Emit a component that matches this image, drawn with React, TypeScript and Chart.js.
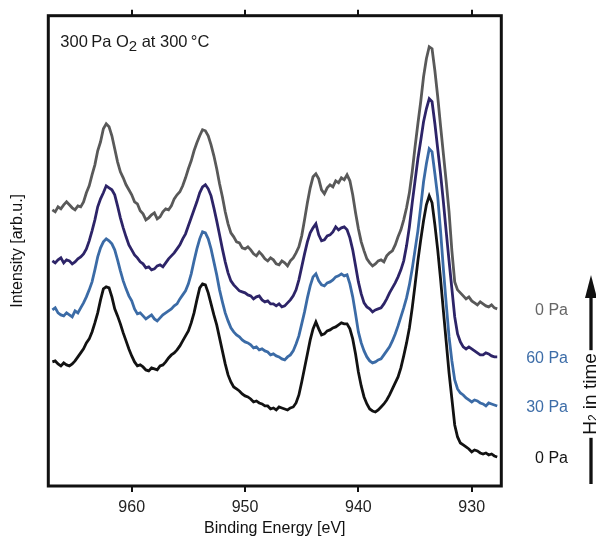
import React, { useEffect, useRef } from 'react';
import { Chart, registerables } from 'chart.js';

Chart.register(...registerables);

const FONT = '"Liberation Sans", Arial, Helvetica, sans-serif';

// Binding energy grid [eV] (one row per eV)
const energies = [
  967, 966.75, 966.5, 966.25,
  966, 965.75, 965.5, 965.25,
  965, 964.75, 964.5, 964.25,
  964, 963.75, 963.5, 963.25,
  963, 962.75, 962.5, 962.25,
  962, 961.75, 961.5, 961.25,
  961, 960.75, 960.5, 960.25,
  960, 959.75, 959.5, 959.25,
  959, 958.75, 958.5, 958.25,
  958, 957.75, 957.5, 957.25,
  957, 956.75, 956.5, 956.25,
  956, 955.75, 955.5, 955.25,
  955, 954.75, 954.5, 954.25,
  954, 953.75, 953.5, 953.25,
  953, 952.75, 952.5, 952.25,
  952, 951.75, 951.5, 951.25,
  951, 950.75, 950.5, 950.25,
  950, 949.75, 949.5, 949.25,
  949, 948.75, 948.5, 948.25,
  948, 947.75, 947.5, 947.25,
  947, 946.75, 946.5, 946.25,
  946, 945.75, 945.5, 945.25,
  945, 944.75, 944.5, 944.25,
  944, 943.75, 943.5, 943.25,
  943, 942.75, 942.5, 942.25,
  942, 941.75, 941.5, 941.25,
  941, 940.75, 940.5, 940.25,
  940, 939.75, 939.5, 939.25,
  939, 938.75, 938.5, 938.25,
  938, 937.75, 937.5, 937.25,
  937, 936.75, 936.5, 936.25,
  936, 935.75, 935.5, 935.25,
  935, 934.75, 934.5, 934.25,
  934, 933.75, 933.5, 933.25,
  933, 932.75, 932.5, 932.25,
  932, 931.75, 931.5, 931.25,
  931, 930.75, 930.5, 930.25,
  930, 929.75, 929.5, 929.25,
  929, 928.75, 928.5, 928.25,
  928, 927.75,
];

// Offset spectra (arb. u.), same row layout as energies
const gray0PaAfter = [
  276, 274, 279, 277,
  281, 284, 281, 278,
  276, 280, 279, 284,
  293, 300, 311, 321,
  335, 344, 357, 362,
  359, 350, 337, 324,
  314, 308, 301, 296,
  291, 284, 282, 275,
  272, 266, 268, 271,
  273, 267, 269, 274,
  277, 276, 280, 287,
  291, 294, 300, 308,
  317, 325, 335, 343,
  350, 356, 355, 350,
  341, 330, 317, 302,
  289, 274, 262, 253,
  249, 244, 243, 238,
  237, 239, 236, 232,
  230, 234, 231, 227,
  225, 228, 226, 222,
  221, 225, 223, 220,
  225, 228, 233, 239,
  250, 266, 283, 298,
  309, 312, 307, 296,
  292, 298, 301, 299,
  305, 303, 308, 306,
  311, 305, 291, 273,
  257, 244, 235, 227,
  223, 220, 222, 225,
  226, 224, 230, 233,
  235, 241, 249, 256,
  266, 278, 293, 314,
  339, 362, 384, 409,
  427, 439, 437, 415,
  389, 360, 332, 304,
  274, 235, 204, 196,
  193, 190, 187, 189,
  185, 183, 181, 184,
  182, 180, 179, 181,
  178, 177,
];

const purple60Pa = [
  225, 223, 226, 228,
  223, 226, 225, 222,
  224, 227, 229, 232,
  237, 245, 255, 266,
  279, 287, 293, 300,
  298, 296, 291, 280,
  268, 258, 249, 241,
  236, 231, 228, 224,
  222, 218, 219, 216,
  217, 220, 221, 219,
  223, 227, 230, 233,
  237, 241, 247, 252,
  260, 268, 276, 284,
  293, 299, 301, 297,
  290, 278, 265, 251,
  237, 224, 213, 205,
  201, 198, 195, 194,
  193, 191, 190, 187,
  189, 190, 186, 184,
  185, 182, 182, 180,
  182, 179, 180, 183,
  186, 190, 196, 206,
  219, 232, 244, 253,
  258, 262, 251, 245,
  246, 250, 251, 254,
  259, 256, 258, 259,
  256, 248, 236, 220,
  204, 192, 183, 179,
  177, 174, 176, 177,
  178, 182, 187, 193,
  198, 203, 209, 216,
  225, 240, 259, 283,
  305, 327, 345, 364,
  377, 387, 384, 362,
  337, 312, 284, 254,
  225, 197, 169, 152,
  144, 139, 137, 139,
  137, 135, 133, 131,
  131, 133, 132, 130,
  129, 129,
];

const blue30Pa = [
  176, 178, 173, 171,
  170, 173, 171, 169,
  175, 173, 178, 183,
  189, 196, 204, 216,
  229, 238, 244, 247,
  245, 242, 236, 226,
  215, 205, 197, 190,
  185, 177, 172, 173,
  170, 167, 169, 171,
  167, 165, 168, 171,
  173, 175, 177, 180,
  182, 187, 191, 195,
  202, 212, 225, 237,
  247, 254, 253, 247,
  237, 224, 211, 196,
  184, 173, 165, 158,
  154, 151, 149, 146,
  144, 143, 141, 138,
  139, 136, 137, 135,
  134, 131, 132, 130,
  129, 127, 126, 129,
  131, 135, 142, 150,
  162, 174, 188, 200,
  209, 212, 205, 201,
  200, 203, 204, 206,
  209, 210, 212, 210,
  211, 202, 189, 172,
  154, 143, 135, 129,
  125, 123, 124, 126,
  127, 131, 135, 139,
  145, 152, 160, 169,
  178, 188, 201, 217,
  236, 255, 279, 304,
  322, 337, 334, 312,
  289, 255, 217, 182,
  149, 125, 106, 97,
  93, 91, 88, 86,
  84, 86, 85, 83,
  82, 80, 83, 82,
  81, 80,
];

const black0PaStart = [
  124, 125, 122, 120,
  123, 121, 120, 122,
  125, 129, 133, 137,
  143, 147, 154, 163,
  173, 186, 197, 199,
  198, 189, 177, 170,
  162, 153, 145, 137,
  130, 124, 120, 121,
  119, 116, 115, 118,
  117, 116, 120, 121,
  124, 128, 131, 133,
  136, 140, 145, 150,
  155, 163, 173, 186,
  198, 202, 201, 193,
  182, 171, 161, 148,
  135, 122, 111, 104,
  99, 97, 95, 92,
  90, 89, 87, 84,
  85, 83, 82, 80,
  80, 77, 78, 76,
  79, 78, 77, 76,
  78, 79, 83, 91,
  104, 118, 132, 146,
  157, 164, 157, 151,
  152, 155, 156, 158,
  159, 161, 163, 162,
  162, 157, 147, 132,
  114, 100, 89, 82,
  77, 75, 74, 76,
  79, 82, 86, 91,
  97, 103, 109, 118,
  130, 143, 158, 178,
  201, 225, 246, 265,
  281, 290, 283, 261,
  236, 207, 175, 144,
  113, 87, 61, 49,
  43, 41, 39, 37,
  34, 36, 35, 33,
  32, 33, 31, 32,
  30, 29,
];

const tickValues = [930, 940, 950, 960];
const seriesValues = [gray0PaAfter, purple60Pa, blue30Pa, black0PaStart];
const seriesLabels = ['0 Pa', '60 Pa', '30 Pa', '0 Pa'];
const seriesColors = ['#595959', '#2d2468', '#3b6ba6', '#121212'];
const labelColors = ['#666666', '#3d6da8', '#3d6da8', '#151515'];

const X_MIN = 927.39;
const X_MAX = 967.36;

const annotationPlugin = {
  id: 'xpsAnnotations',
  afterDraw(chart: any) {
    const ctx = chart.ctx as CanvasRenderingContext2D;
    const { left, top, right, bottom } = chart.chartArea;
    ctx.save();

    // frame
    ctx.strokeStyle = '#111111';
    ctx.lineWidth = 3;
    ctx.strokeRect(left, top, right - left, bottom - top);

    // condition text
    ctx.fillStyle = '#1a1a1a';
    ctx.textAlign = 'left';
    ctx.textBaseline = 'alphabetic';
    let tx = left + 12;
    const ty = top + 31;
    ctx.font = `16.5px ${FONT}`;
    const part1 = '300\u2009Pa O';
    ctx.fillText(part1, tx, ty);
    tx += ctx.measureText(part1).width;
    ctx.font = `15px ${FONT}`;
    ctx.fillText('2', tx, ty + 4);
    tx += ctx.measureText('2').width;
    ctx.font = `16.5px ${FONT}`;
    ctx.fillText(' at 300\u2009°C', tx, ty);

    // series labels
    const yScale = chart.scales.y;
    ctx.font = `16px ${FONT}`;
    ctx.textAlign = 'right';
    ctx.textBaseline = 'middle';
    seriesValues.forEach((vals, i) => {
      const py = yScale.getPixelForValue(vals[vals.length - 1]) + 2;
      ctx.fillStyle = labelColors[i];
      ctx.fillText(seriesLabels[i], 568, py);
    });

    // arrow
    const ax = 591;
    ctx.strokeStyle = '#111111';
    ctx.fillStyle = '#111111';
    ctx.lineWidth = 3.3;
    ctx.beginPath();
    ctx.moveTo(ax, 484);
    ctx.lineTo(ax, 296);
    ctx.stroke();
    ctx.beginPath();
    ctx.moveTo(ax, 275);
    ctx.lineTo(ax - 6, 298);
    ctx.lineTo(ax + 6, 298);
    ctx.closePath();
    ctx.fill();

    // H2 in time (rotated)
    ctx.translate(596, 394);
    ctx.rotate(-Math.PI / 2);
    ctx.textAlign = 'left';
    ctx.textBaseline = 'alphabetic';
    ctx.font = `19px ${FONT}`;
    const wH = ctx.measureText('H').width;
    ctx.font = `12px ${FONT}`;
    const w2 = ctx.measureText('2').width;
    ctx.font = `19px ${FONT}`;
    const wRest = ctx.measureText(' in time').width;
    const total = wH + w2 + wRest;
    let lx = -total / 2;
    ctx.fillStyle = '#ffffff';
    ctx.fillRect(lx - 3, -17, total + 6, 22);
    ctx.fillStyle = '#111111';
    ctx.fillText('H', lx, 0);
    lx += wH;
    ctx.font = `12px ${FONT}`;
    ctx.fillText('2', lx, 1);
    lx += w2;
    ctx.font = `19px ${FONT}`;
    ctx.fillText(' in time', lx, 0);

    ctx.restore();
  },
};

export default function App() {
  const canvasRef = useRef<HTMLCanvasElement | null>(null);

  useEffect(() => {
    if (!canvasRef.current) return;
    const datasets = seriesValues.map((vals, i) => ({
      label: seriesLabels[i],
      data: energies.map((e, j) => ({ x: e, y: vals[j] })),
      borderColor: seriesColors[i],
      backgroundColor: seriesColors[i],
      borderWidth: 2.8,
      pointRadius: 0,
      tension: 0,
      fill: false,
      xAxisID: 'x',
      yAxisID: 'y',
    }));

    const gridOpts = {
      drawOnChartArea: false,
      drawTicks: true,
      tickLength: 6,
      color: '#111111',
      lineWidth: 2,
    };

    const chart = new Chart(canvasRef.current, {
      type: 'line',
      data: { datasets },
      options: {
        animation: false,
        responsive: false,
        maintainAspectRatio: false,
        layout: { padding: { left: 0, top: 0, right: 94.7, bottom: 0 } },
        plugins: { legend: { display: false }, tooltip: { enabled: false } },
        scales: {
          x: {
            type: 'linear',
            position: 'bottom',
            reverse: true,
            min: X_MIN,
            max: X_MAX,
            afterBuildTicks: (s: any) => {
              s.ticks = tickValues.map((v) => ({ value: v }));
            },
            afterFit: (s: any) => {
              s.height = 53;
            },
            grid: gridOpts,
            border: { display: false },
            ticks: {
              color: '#222222',
              padding: 6,
              maxRotation: 0,
              font: { size: 16, family: FONT },
              callback: (v: any) => String(v),
            },
            title: {
              display: true,
              text: 'Binding Energy [eV]',
              color: '#111111',
              font: { size: 16, family: FONT },
              padding: { top: 0, bottom: 1 },
            },
          },
          xTop: {
            type: 'linear',
            position: 'top',
            reverse: true,
            min: X_MIN,
            max: X_MAX,
            afterBuildTicks: (s: any) => {
              s.ticks = tickValues.map((v) => ({ value: v }));
            },
            afterFit: (s: any) => {
              s.height = 15.7;
            },
            grid: gridOpts,
            border: { display: false },
            ticks: { display: false },
          },
          y: {
            type: 'linear',
            position: 'left',
            min: 0,
            max: 470,
            afterFit: (s: any) => {
              s.width = 48.3;
            },
            grid: { display: false },
            border: { display: false },
            ticks: { display: false },
            title: {
              display: true,
              text: 'Intensity [arb.u.]',
              color: '#111111',
              font: { size: 16, family: FONT },
              padding: { top: 8, bottom: 0 },
            },
          },
        },
      } as any,
      plugins: [annotationPlugin],
    });

    return () => chart.destroy();
  }, []);

  return (
    <div style={{ position: 'fixed', left: 0, top: 0, width: 596, height: 539, background: '#ffffff' }}>
      <canvas ref={canvasRef} width={596} height={539} style={{ display: 'block', width: 596, height: 539 }} />
    </div>
  );
}
